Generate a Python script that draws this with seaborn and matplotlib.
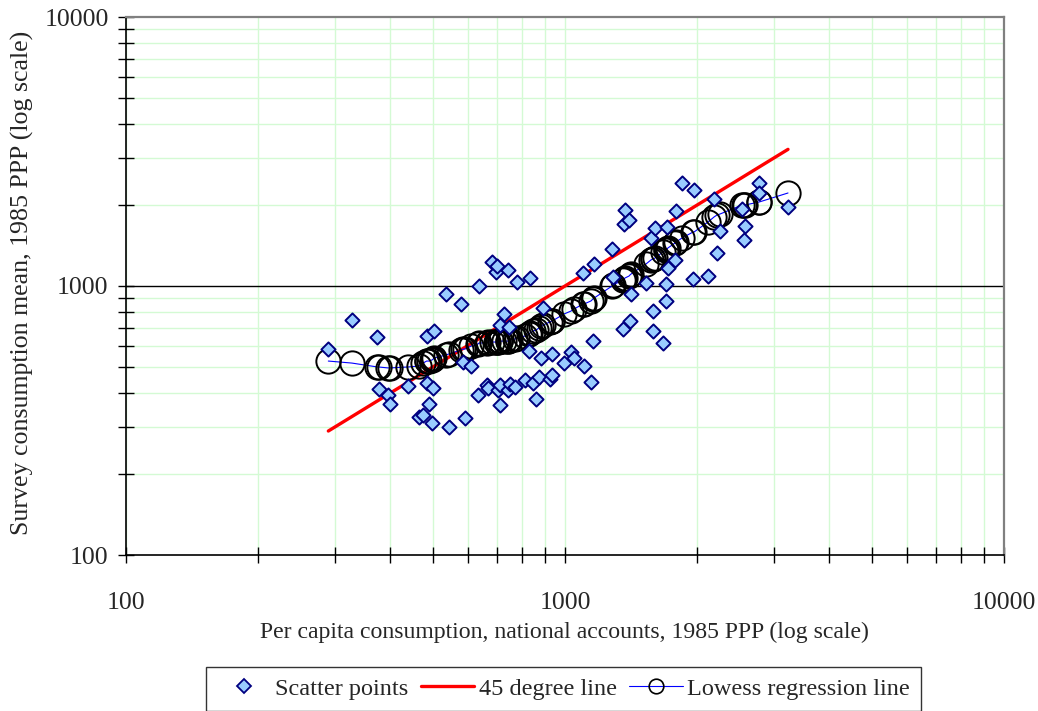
import matplotlib
matplotlib.use("Agg")
import matplotlib.pyplot as plt
import pandas as pd
import seaborn as sns
from matplotlib.lines import Line2D
from matplotlib.ticker import FixedLocator, FixedFormatter, NullFormatter

# Per capita consumption from national accounts (1985 PPP), sorted
natl_x = [289, 327, 374, 376, 395, 399, 439, 465, 475, 484,
          486, 490, 498, 501, 503, 536, 544, 580, 586, 592,
          611, 634, 637, 664, 668, 682, 696, 700, 704, 710,
          711, 712, 726, 741, 743, 746, 750, 769, 777, 811,
          828, 832, 846, 859, 873, 882, 891, 924, 933, 935,
          995, 1032, 1048, 1099, 1105, 1146, 1158, 1165, 1280, 1286,
          1356, 1363, 1370, 1399, 1406, 1414, 1529, 1570, 1586, 1588,
          1603, 1672, 1698, 1700, 1708, 1716, 1781, 1790, 1847, 1957,
          1967, 2117, 2185, 2219, 2255, 2531, 2557, 2570, 2766, 2768,
          3221]

# Survey consumption mean (1985 PPP)
survey_y = [583, 747, 646, 414, 393, 364, 425, 326, 331, 652,
            436, 364, 310, 418, 680, 934, 299, 857, 522, 323,
            504, 393, 1000, 429, 418, 1228, 1127, 1187, 411, 716,
            429, 361, 787, 1147, 411, 704, 432, 421, 1035, 447,
            573, 1071, 436, 380, 459, 540, 828, 451, 467, 559,
            517, 568, 540, 1118, 504, 440, 624, 1207, 1372, 1080,
            692, 1700, 1917, 1760, 741, 934, 1026, 1508, 807, 680,
            1643, 614, 880, 1017, 1657, 1166, 1250, 1900, 2415, 1062,
            2275, 1089, 2106, 1327, 1601, 1933, 1483, 1671, 2415, 2217,
            1967]

# Lowess fitted survey mean at each national-accounts value
lowess_y = [526, 517, 500, 500, 496, 496, 500, 504, 517, 526,
            526, 526, 531, 535, 540, 554, 559, 578, 583, 583,
            598, 609, 614, 614, 619, 619, 619, 619, 619, 624,
            624, 624, 624, 624, 624, 630, 630, 635, 641, 652,
            663, 669, 680, 686, 698, 710, 716, 735, 741, 741,
            787, 807, 821, 857, 857, 880, 895, 902, 1000, 1009,
            1053, 1062, 1071, 1089, 1099, 1108, 1207, 1250, 1260, 1260,
            1271, 1338, 1361, 1361, 1372, 1385, 1445, 1457, 1508, 1587,
            1587, 1729, 1805, 1836, 1852, 2000, 2000, 2000, 2052, 2052,
            2217]

major_ticks = [100, 1000, 10000]
major_labels = ["100", "1000", "10000"]
minor_ticks = [m * d for d in (100, 1000) for m in range(2, 10)]

legend_labels = ["Scatter points", "45 degree line", "Lowess regression line"]

sns.set_style("white")
plt.rcParams["font.family"] = ["Liberation Serif", "DejaVu Serif"]

df = pd.DataFrame({"natl": natl_x, "survey": survey_y, "lowess": lowess_y})

W, H = 1038, 711
fig = plt.figure(figsize=(W / 100, H / 100), dpi=100)
fig.patch.set_facecolor("white")
ax = fig.add_axes([126 / W, 1 - 555 / H, (1004 - 126) / W, (555 - 17) / H])
ax.set_facecolor("white")
ax.set_xscale("log")
ax.set_yscale("log")
ax.set_xlim(100, 10000)
ax.set_ylim(100, 10000)

for axis in (ax.xaxis, ax.yaxis):
    axis.set_major_locator(FixedLocator(major_ticks))
    axis.set_major_formatter(FixedFormatter(major_labels))
    axis.set_minor_locator(FixedLocator(minor_ticks))
    axis.set_minor_formatter(NullFormatter())

green = "#d4fad4"
ax.grid(which="both", axis="x", color=green, lw=1.0)
ax.grid(which="minor", axis="y", color=green, lw=1.0)
ax.set_axisbelow(True)
ax.axhline(1000, color="black", lw=1.0, zorder=1.5)

# 45 degree reference line
sns.lineplot(x=natl_x, y=natl_x, estimator=None, color="red", lw=2.4,
             ax=ax, zorder=3, legend=False)

# Lowess fit: thin blue line with open circles at each observation
sns.lineplot(data=df, x="natl", y="lowess", estimator=None, color="blue",
             lw=0.8, marker="o", markersize=17.5, markerfacecolor="none",
             markeredgecolor="black", markeredgewidth=1.4, ax=ax, zorder=4,
             legend=False)

# Observations
sns.scatterplot(data=df, x="natl", y="survey", marker="D", s=52,
                color="#99ccff", edgecolor="#000080", linewidth=1.4,
                ax=ax, zorder=5, legend=False)

ax.set_xlabel("")
ax.set_ylabel("")

for side in ("left", "bottom"):
    ax.spines[side].set_color("black")
    ax.spines[side].set_linewidth(1.2)
for side in ("top", "right"):
    ax.spines[side].set_color("#808080")
    ax.spines[side].set_linewidth(1.6)

ax.tick_params(which="both", bottom=True, left=True, top=False, right=False,
               direction="inout", length=11, width=1.0,
               color="black", labelsize=18.5)
ax.tick_params(axis="x", which="both", pad=21)
ax.tick_params(axis="y", which="both", pad=7)

fig.text(564 / W, 1 - 632 / H,
         "Per capita consumption, national accounts, 1985 PPP (log scale)",
         ha="center", va="center", fontsize=17.1)
fig.text(22 / W, 1 - 283 / H,
         "Survey consumption mean, 1985 PPP (log scale)",
         ha="center", va="center", rotation=90, fontsize=18.6)

handles = [
    Line2D([], [], ls="none", marker="D", markersize=7,
           markerfacecolor="#99ccff", markeredgecolor="#000080",
           markeredgewidth=1.3),
    Line2D([], [], color="red", lw=2.4),
    Line2D([], [], color="blue", lw=0.8, marker="o", markersize=10.5,
           markerfacecolor="none", markeredgecolor="black",
           markeredgewidth=1.2),
]
leg = fig.legend(handles, legend_labels, loc="upper left",
                 bbox_to_anchor=(206 / W, 44 / H), ncol=3, frameon=True,
                 fancybox=False, edgecolor="black", fontsize=17.5,
                 borderaxespad=0, handlelength=2.2, handletextpad=0.2,
                 columnspacing=0.5, borderpad=0.45)
leg.get_frame().set_linewidth(1.0)
leg.get_frame().set_facecolor("white")

fig.savefig("out.png", dpi=100, facecolor="white")
